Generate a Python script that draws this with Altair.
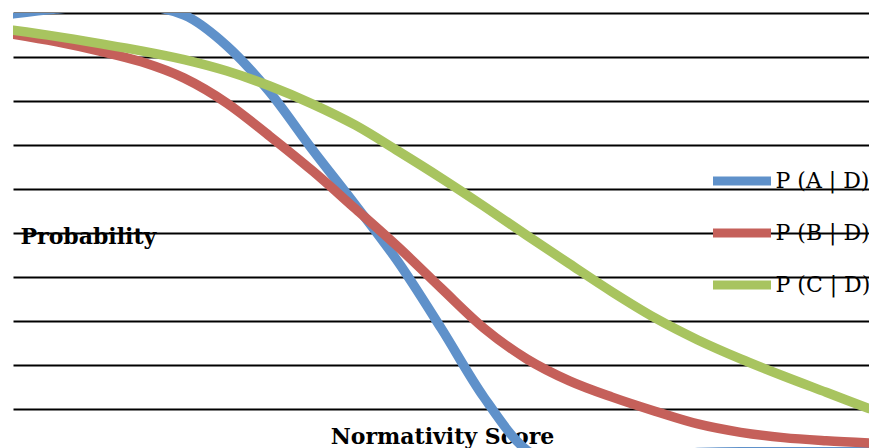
import altair as alt
import pandas as pd

# Normativity score sampled every 5 points
scores = [0, 5, 10, 15, 20, 25, 30, 35, 40, 45, 50,
          55, 60, 65, 70, 75, 80, 85, 90, 95, 100]

# Conditional probabilities for each outcome given D
p_a = [0.998, 1.009, 1.015, 1.015, 0.995, 0.925, 0.820, 0.689, 0.564, 0.434, 0.284,
       0.127, 0.007, -0.030, -0.034, -0.016, 0.001, 0.003, 0.003, 0.003, 0.003]
p_b = [0.952, 0.935, 0.914, 0.889, 0.852, 0.795, 0.720, 0.641, 0.555, 0.468, 0.375,
       0.284, 0.214, 0.164, 0.127, 0.095, 0.066, 0.047, 0.035, 0.028, 0.023]
p_c = [0.961, 0.947, 0.931, 0.914, 0.894, 0.868, 0.834, 0.793, 0.745, 0.686, 0.625,
       0.561, 0.495, 0.430, 0.366, 0.307, 0.257, 0.214, 0.175, 0.138, 0.101]

series_names = ["P (A | D)", "P (B | D)", "P (C | D)"]
series_colors = ["#5F91CA", "#C5605A", "#A8C45F"]
grid_values = [0.1, 0.2, 0.3, 0.4, 0.5, 0.6, 0.7, 0.8, 0.9, 1.0]
y_domain = [0.0114, 1.0]
x_domain = [0, 100]

rows = []
for name, values in zip(series_names, [p_a, p_b, p_c]):
    for s, v in zip(scores, values):
        rows.append({"score": s, "prob": v, "series": name})
df = pd.DataFrame(rows)

serif = "DejaVu Serif"

chart = (
    alt.Chart(df)
    .mark_line(clip=True, strokeWidth=9.5, interpolate="monotone", strokeCap="round")
    .encode(
        x=alt.X(
            "score:Q",
            scale=alt.Scale(domain=x_domain, nice=False, zero=False),
            axis=alt.Axis(
                title="Normativity Score",
                labels=False, ticks=False, domain=False, grid=False,
                titleFont=serif, titleFontSize=22, titleFontWeight="bold",
                titleColor="black", titleX=429, titleY=-5,
                titleAlign="center", titleBaseline="alphabetic",
            ),
        ),
        y=alt.Y(
            "prob:Q",
            scale=alt.Scale(domain=y_domain, nice=False, zero=False),
            axis=alt.Axis(
                title="Probability", values=grid_values,
                labels=False, ticks=False, domain=False,
                grid=True, gridColor="black", gridWidth=2, gridOpacity=1,
                titleFont=serif, titleFontSize=22, titleFontWeight="bold",
                titleColor="black", titleAngle=0, titleX=7, titleY=230,
                titleAlign="left", titleBaseline="alphabetic",
            ),
        ),
        color=alt.Color(
            "series:N",
            scale=alt.Scale(domain=series_names, range=series_colors),
            legend=alt.Legend(
                orient="none", legendX=695.5, legendY=134.5, title=None,
                symbolType="stroke", symbolStrokeWidth=9, symbolSize=3364,
                labelFont=serif, labelFontSize=22, labelColor="black",
                labelOffset=0, rowPadding=0, padding=0, labelLimit=300,
            ),
        ),
    )
    .properties(
        width=856, height=435,
        autosize=alt.AutoSizeParams(type="none"),
        padding={"left": 13, "top": 13, "right": 0, "bottom": 0},
        background="white",
    )
    .configure_view(stroke="transparent")
)

chart.save("out.html", embed_options={"renderer": "svg", "actions": False})
